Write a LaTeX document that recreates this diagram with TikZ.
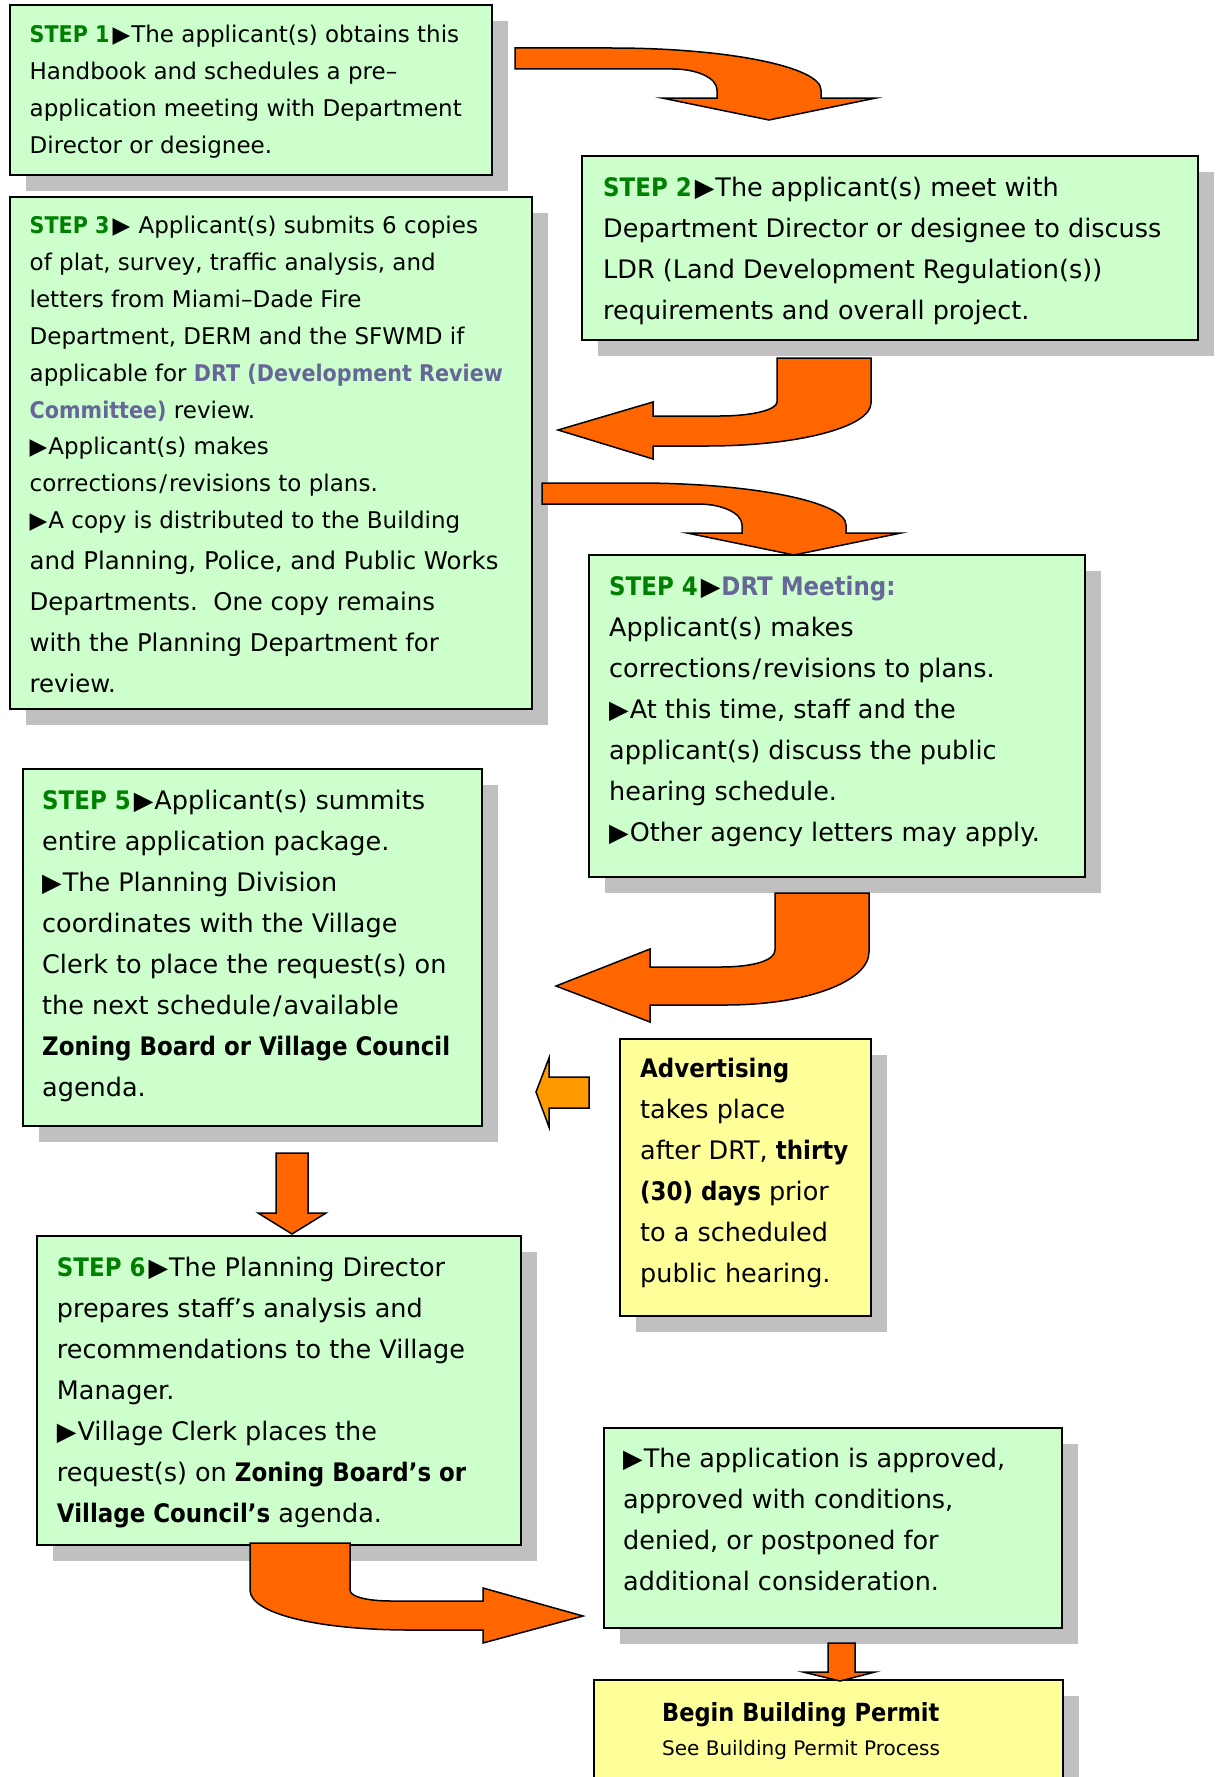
\documentclass[tikz,border=0pt]{standalone}
\usepackage{fontspec}
\setmainfont{DejaVu Sans}[BoldFeatures={FakeStretch=0.9}]
\usetikzlibrary{shadows}
\definecolor{boxgreen}{HTML}{CCFFCC}
\definecolor{boxyellow}{HTML}{FFFF99}
\definecolor{shadowgray}{HTML}{C0C0C0}
\definecolor{arroworange}{HTML}{FF6600}
\definecolor{lightorange}{HTML}{FF9900}
\definecolor{stepgreen}{HTML}{008000}
\definecolor{drtblue}{HTML}{666699}
\newcommand{\stp}[1]{\textcolor{stepgreen}{\addfontfeatures{FakeStretch=0.86}\textbf{STEP #1}}\kern3pt}
\newcommand{\drt}[1]{\textcolor{drtblue}{\textbf{#1}}}
\newcommand{\tri}{▶\kern1pt}
\newcommand{\slsh}{\kern2pt/\kern2pt}
\tikzset{
  panel/.style={draw=black, line width=2pt, inner sep=0pt, anchor=north west,
    drop shadow={shadow xshift=16pt, shadow yshift=-16pt, fill=shadowgray, opacity=1}},
  greenpanel/.style={panel, fill=boxgreen},
  yellowpanel/.style={panel, fill=boxyellow},
  bigtext/.style={anchor=base west, align=left, inner sep=0pt, font=\fontsize{25.5}{41}\selectfont},
  midtext/.style={anchor=base west, align=left, inner sep=0pt, font=\fontsize{24.4}{41}\selectfont},
  smalltext/.style={anchor=base west, align=left, inner sep=0pt, font=\fontsize{23}{36.9}\selectfont},
  bendarrow/.style={fill=arroworange, draw=black, line width=1.5pt, line join=miter},
  lightarrow/.style={fill=lightorange, draw=black, line width=1.5pt, line join=miter}
}
\begin{document}
\begin{tikzpicture}[x=1pt, y=-1pt]
\fill[white] (0,0) rectangle (1217,1777);
\useasboundingbox (0,0) rectangle (1217,1777);

% boxes
\node[greenpanel, minimum width=481.5pt, minimum height=169pt] (s1) at (9,4.5) {};
\node[greenpanel, minimum width=615.6pt, minimum height=184pt] (s2) at (581,155) {};
\node[greenpanel, minimum width=522.4pt, minimum height=512pt] (s3) at (9,196) {};
\node[greenpanel, minimum width=496.4pt, minimum height=322pt] (s4) at (588,554) {};
\node[greenpanel, minimum width=459pt, minimum height=357pt] (s5) at (21.5,768) {};
\node[yellowpanel, minimum width=251.5pt, minimum height=276.5pt] (adv) at (618.7,1038) {};
\node[greenpanel, minimum width=484pt, minimum height=309.3pt] (s6) at (36.3,1235) {};
\node[greenpanel, minimum width=457.8pt, minimum height=200.5pt] (appr) at (602.8,1426.6) {};
\node[yellowpanel, minimum width=469pt, minimum height=140pt] (bgn) at (592.6,1679.3) {};

% texts (anchor = baseline of the last line)
\node[smalltext] (t1) at (29.5,153) {\stp{1}\tri The applicant(s) obtains this\\
Handbook and schedules a pre–\\
application meeting with Department\\
Director or designee.};

\node[bigtext] (t2) at (603,319) {\stp{2}\tri The applicant(s) meet with\\
Department Director or designee to discuss\\
LDR (Land Development Regulation(s))\\
requirements and overall project.};

\node[smalltext] (t3a) at (29.5,528.7) {\stp{3}\tri{} Applicant(s) submits 6 copies\\
of plat, survey, traffic analysis, and\\
letters from Miami–Dade Fire\\
Department, DERM and the SFWMD if\\
applicable for \drt{DRT (Development Review}\\
\drt{Committee)} review.\\
\tri Applicant(s) makes\\
corrections\slsh revisions to plans.\\
\tri A copy is distributed to the Building};
\node[midtext] (t3b) at (29.5,692) {and Planning, Police, and Public Works\\
Departments.\ \ One copy remains\\
with the Planning Department for\\
review.};

\node[bigtext] (t4) at (609,841) {\stp{4}\tri\drt{DRT Meeting:}\\
Applicant(s) makes\\
corrections\slsh revisions to plans.\\
\tri At this time, staff and the\\
applicant(s) discuss the public\\
hearing schedule.\\
\tri Other agency letters may apply.};

\node[bigtext] (t5) at (42,1096) {\stp{5}\tri Applicant(s) summits\\
entire application package.\\
\tri The Planning Division\\
coordinates with the Village\\
Clerk to place the request(s) on\\
the next schedule\slsh available\\
\textbf{Zoning Board or Village Council}\\
agenda.};

\node[bigtext] (tadv) at (640,1282) {\textbf{Advertising}\\
takes place\\
after DRT, \textbf{thirty}\\
\textbf{(30) days} prior\\
to a scheduled\\
public hearing.};

\node[bigtext] (t6) at (56.7,1522) {\stp{6}\tri The Planning Director\\
prepares staff’s analysis and\\
recommendations to the Village\\
Manager.\\
\tri Village Clerk places the\\
request(s) on \textbf{Zoning Board’s or}\\
\textbf{Village Council’s} agenda.};

\node[bigtext] (tappr) at (623,1590) {\tri The application is approved,\\
approved with conditions,\\
denied, or postponed for\\
additional consideration.};

\node[anchor=base west, inner sep=0pt, font=\fontsize{25}{30}\selectfont\bfseries] (tbgn) at (662,1721) {Begin Building Permit};
\node[anchor=base west, inner sep=0pt, font=\fontsize{20}{24}\selectfont] (tsee) at (662,1755) {See Building Permit Process};

% arrows
% step 1 -> step 2
\draw[bendarrow] (515,48) -- (612,48) .. controls (728,48) and (821,67) .. (821,90)
  -- (821,98) -- (876,98) -- (769,120) -- (662,98) -- (717,98) -- (717,90)
  .. controls (717,78) and (697,69) .. (673,69) -- (515,69) -- cycle;
% step 2 -> step 3
\draw[bendarrow] (777,358) -- (871,358) -- (871,403) .. controls (871,427) and (798,446) .. (707,446)
  -- (653,446) -- (653,459) -- (558,430) -- (653,402) -- (653,416) -- (720,416)
  .. controls (751,416) and (777,410) .. (777,402) -- cycle;
% step 3 -> step 4
\draw[bendarrow] (542,483) -- (637,483) .. controls (753,483) and (846,502) .. (846,525)
  -- (846,533) -- (901,533) -- (794,555) -- (687,533) -- (742,533) -- (742,525)
  .. controls (742,513) and (722,504) .. (698,504) -- (542,504) -- cycle;
% step 4 -> step 5
\draw[bendarrow] (775,893) -- (869,893) -- (869,952) .. controls (869,981) and (808,1005) .. (725,1005)
  -- (650,1005) -- (650,1022) -- (556,986) -- (650,949) -- (650,967) -- (720,967)
  .. controls (755,967) and (775,960) .. (775,950) -- cycle;
% advertising -> step 5
\draw[lightarrow] (589,1077) -- (589,1108) -- (549,1108) -- (549,1127) -- (536,1092)
  -- (549,1058) -- (549,1077) -- cycle;
% step 5 -> step 6
\draw[bendarrow] (276,1153) -- (308,1153) -- (308,1213) -- (326,1213) -- (292,1234)
  -- (258,1213) -- (276,1213) -- cycle;
% step 6 -> approval
\draw[bendarrow] (250,1543) -- (350,1543) -- (350,1590) .. controls (350,1597) and (368,1601) .. (392,1601)
  -- (483,1601) -- (483,1588) -- (583,1616) -- (483,1643) -- (483,1630) -- (410,1630)
  .. controls (320,1630) and (250,1614) .. (250,1590) -- cycle;
% approval -> begin
\draw[bendarrow] (828,1643) -- (855,1643) -- (855,1672) -- (875,1672) -- (840,1681)
  -- (803,1672) -- (828,1672) -- cycle;
\end{tikzpicture}
\end{document}
